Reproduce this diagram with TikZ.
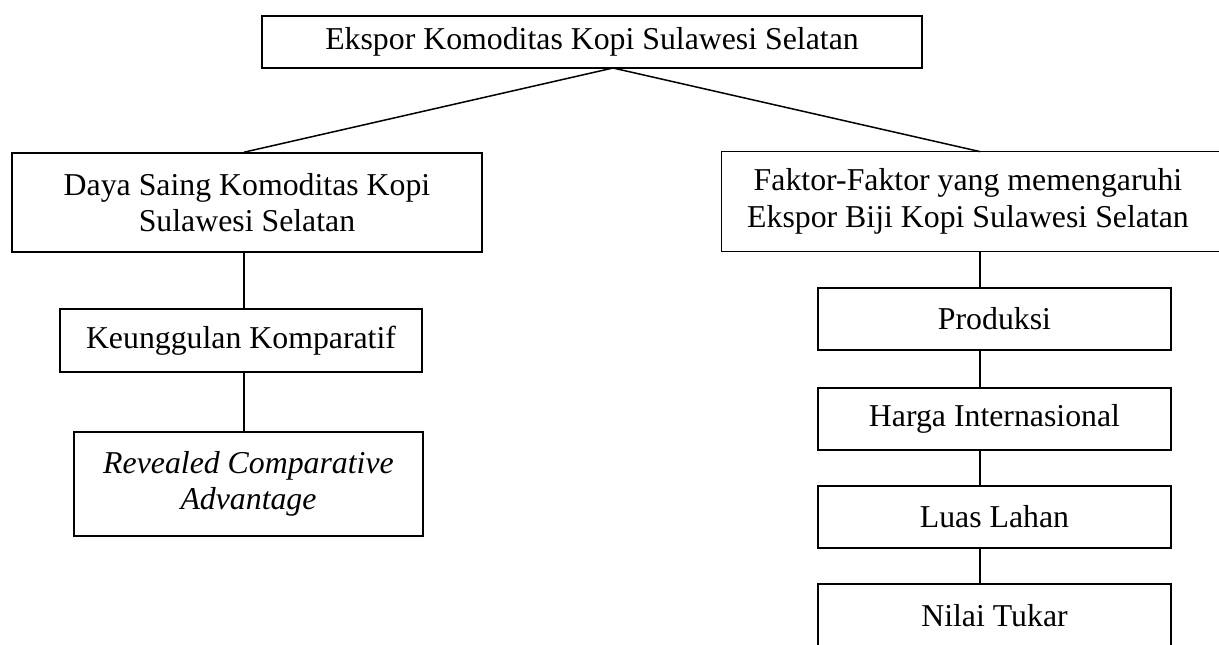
\documentclass[tikz,border=0pt]{standalone}
\usepackage{fontspec}
\setmainfont{Liberation Serif}
\begin{document}
\begin{tikzpicture}[x=0.5pt,y=-0.5pt,
  box/.style={draw, line width=0.8pt, inner sep=0pt, align=center,
    font=\fontsize{15.9}{18.3}\selectfont},
  openbox/.style={inner sep=0pt},
  txt/.style={inner sep=0pt, align=center, font=\fontsize{15.9}{18.3}\selectfont},
  edge/.style={line width=0.8pt},
  link/.style={line width=0.75pt}]
\useasboundingbox (0,0) rectangle (1219,644);
\node[box, minimum width=330pt, minimum height=26pt] (top) at (592,42) {Ekspor Komoditas Kopi Sulawesi Selatan};
\node[box, minimum width=235pt, minimum height=49.5pt] (left) at (247,202.5) {Daya Saing Komoditas Kopi\\Sulawesi Selatan};
\node[openbox, minimum width=260pt, minimum height=49.5pt] (right) at (982,201.5) {};
\draw[edge] (right.north east) -- (right.north west) -- (right.south west) -- (right.south east);
\node[txt] (righttxt) at (968,201.5) {Faktor-Faktor yang memengaruhi\\Ekspor Biji Kopi Sulawesi Selatan};
\node[box, minimum width=181pt, minimum height=31.5pt] (keu) at (241,340.5) {Keunggulan Komparatif};
\node[box, minimum width=174.5pt, minimum height=52pt] (rca) at (248.5,484) {\itshape Revealed Comparative\\\itshape Advantage};
\node[box, minimum width=176.5pt, minimum height=31pt] (prod) at (994.5,319) {Produksi};
\node[box, minimum width=176.5pt, minimum height=31pt] (harga) at (994.5,419) {Harga Internasional};
\node[box, minimum width=176.5pt, minimum height=31pt] (luas) at (994.5,517) {Luas Lahan};
\node[box, minimum width=176.5pt, minimum height=32pt] (nilai) at (994.5,616) {Nilai Tukar};
\coordinate (junc) at (613,68);
\coordinate (colL) at (244,0);
\coordinate (colR) at (980,0);
\draw[link] (junc) -- (left.north -| colL);
\draw[link] (junc) -- (right.north -| colR);
\draw[link] (left.south -| colL) -- (keu.north -| colL);
\draw[link] (keu.south -| colL) -- (rca.north -| colL);
\draw[link] (right.south -| colR) -- (prod.north -| colR);
\draw[link] (prod.south -| colR) -- (harga.north -| colR);
\draw[link] (harga.south -| colR) -- (luas.north -| colR);
\draw[link] (luas.south -| colR) -- (nilai.north -| colR);
\end{tikzpicture}
\end{document}
